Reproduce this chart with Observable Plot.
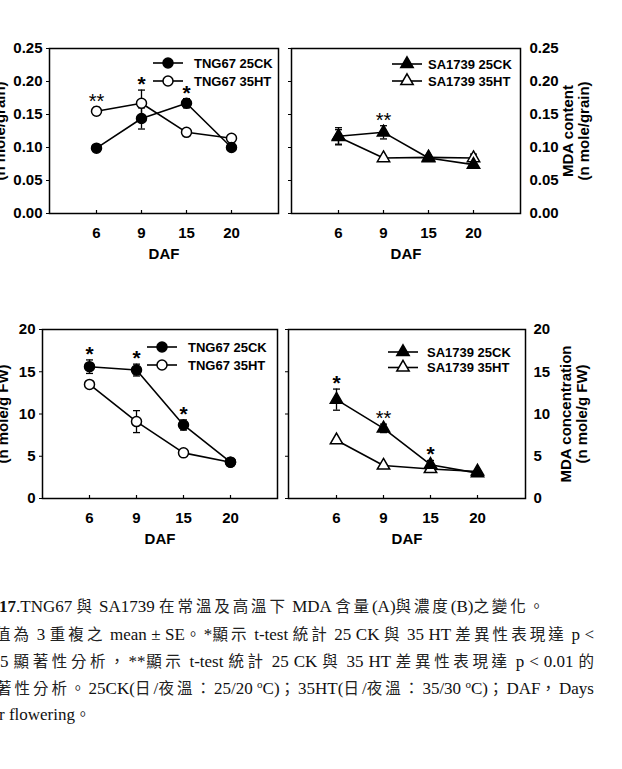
<!DOCTYPE html>
<html><head><meta charset="utf-8">
<script src="https://cdn.jsdelivr.net/npm/d3@7"></script>
<script src="https://cdn.jsdelivr.net/npm/@observablehq/plot@0.6"></script>
<style>
html,body{margin:0;padding:0;background:#fff;}
body{width:622px;height:769px;position:relative;overflow:hidden;}
.panel{position:absolute;}
.cap{position:absolute;white-space:nowrap;font-family:"Liberation Serif","Times New Roman",serif;font-size:17px;line-height:27px;color:#111;}
.cap.j{white-space:normal;text-align:justify;text-align-last:justify;}
.cj{font-family:"Noto Sans CJK TC","Noto Sans CJK SC",sans-serif;font-size:15.5px;letter-spacing:2.9px;color:#222;}
sup{font-size:11px;line-height:0;vertical-align:6px;}
</style>
</head><body>
<script>
// ---------------- data ----------------
const days = [6, 9, 15, 20];
const contentTicks = [0, 0.05, 0.10, 0.15, 0.20, 0.25];
const concTicks = [0, 5, 10, 15, 20];

// (A) MDA content (n mole/grain)
const tngContentCK = [0.099, 0.144, 0.167, 0.100];
const tngContentCKErr = [0.003, 0.016, 0.007, 0.004];
const tngContentHT = [0.155, 0.167, 0.123, 0.114];
const tngContentHTErr = [0.006, 0.020, 0.004, 0.004];
const tngContentSig = ["**", "*", "*", ""];

const saContentCK = [0.117, 0.123, 0.084, 0.074];
const saContentCKErr = [0.013, 0.010, 0.003, 0.003];
const saContentHT = [0.116, 0.084, 0.085, 0.084];
const saContentHTErr = [0.011, 0.003, 0.003, 0.006];
const saContentSig = ["", "**", "", ""];

// (B) MDA concentration (n mole/g FW)
const tngConcCK = [15.6, 15.2, 8.7, 4.3];
const tngConcCKErr = [0.8, 0.7, 0.6, 0.2];
const tngConcHT = [13.5, 9.1, 5.4, 4.3];
const tngConcHTErr = [0.4, 1.3, 0.3, 0.2];
const tngConcSig = ["*", "*", "*", ""];

const saConcCK = [11.7, 8.3, 4.0, 3.0];
const saConcCKErr = [1.25, 0.5, 0.5, 0.2];
const saConcHT = [6.9, 3.9, 3.5, 3.2];
const saConcHTErr = [0.2, 0.2, 0.2, 0.2];
const saConcSig = ["*", "**", "*", ""];

const captionLines = [
  "<b>17</b>.TNG67 與 SA1739 在常溫及高溫下 MDA 含量(A)與濃度(B)之變化。",
  "值為 3 重複之 mean ± SE。*顯示 t-test 統計 25 CK 與 35 HT 差異性表現達 p <",
  "5 顯著性分析，**顯示 t-test 統計 25 CK 與 35 HT 差異性表現達 p < 0.01 的",
  "著性分析。25CK(日/夜溫：25/20 <sup>o</sup>C)；35HT(日/夜溫：35/30 <sup>o</sup>C)；DAF，Days",
  "r flowering。"
];

// ---------------- drawing ----------------
const FONT = "'Liberation Sans', Arial, Helvetica, sans-serif";
const capSym = {draw(ctx, size) { const r = Math.sqrt(size / Math.PI); ctx.moveTo(-r, 0); ctx.lineTo(r, 0); }};
const tickUpSym = {draw(ctx, size) { const r = Math.sqrt(size / Math.PI); ctx.moveTo(0, 0); ctx.lineTo(0, -r); }};

function rowsOf(vals, errs, series) {
  return days.map((d, i) => ({day: d, value: vals[i], err: errs[i], series}));
}

function panel(o) {
  const ck = rowsOf(o.ck, o.ckErr, "CK");
  const ht = rowsOf(o.ht, o.htErr, "HT");
  const all = ck.concat(ht);
  const sig = days.map((d, i) => ({
    day: d, mark: o.sig[i],
    top: Math.max(ck[i].value + ck[i].err, ht[i].value + ht[i].err)
  })).filter(d => d.mark);
  const r = o.shape === "circle" ? 5 : 4.6;
  const yTicksFmt = o.fmt;
  const marks = [
    Plot.frame({stroke: "black", strokeWidth: 1.5}),
    Plot.dot(days, {x: d => d, y: o.ticks[0], symbol: tickUpSym, r: 3.5, stroke: "black", fill: "none", strokeWidth: 1.2}),
    Plot.axisX(days, {tickSize: 0, tickPadding: 14, fontSize: 15, fontWeight: "bold", label: null}),
    Plot.text(["DAF"], {frameAnchor: "bottom", dy: 41, lineAnchor: "middle", fontSize: 15, fontWeight: "bold"})
  ];
  if (o.side === "left") {
    marks.push(Plot.axisY(o.ticks, {anchor: "left", tickSize: 3, tickPadding: 4, tickFormat: yTicksFmt, fontSize: 15, fontWeight: "bold", label: null}));
    marks.push(Plot.text([o.title], {frameAnchor: "left", rotate: -90, dx: o.titleDx, lineAnchor: "middle", textAnchor: "middle", lineHeight: 1.1, fontSize: 15, fontWeight: "bold"}));
  } else {
    marks.push(Plot.axisY(o.ticks, {anchor: "left", tickSize: 3, fill: "none", label: null}));
    marks.push(Plot.axisY(o.ticks, {anchor: "right", tickSize: 0, tickPadding: o.rightPad, tickFormat: yTicksFmt, fontSize: 15, fontWeight: "bold", label: null}));
    marks.push(Plot.text([o.title], {frameAnchor: "right", rotate: -90, dx: o.titleDx, lineAnchor: "middle", textAnchor: "middle", lineHeight: 1.1, fontSize: 15, fontWeight: "bold"}));
  }
  marks.push(
    Plot.line(ck, {x: "day", y: "value", stroke: "black", strokeWidth: 1.6}),
    Plot.line(ht, {x: "day", y: "value", stroke: "black", strokeWidth: 1.6}),
    Plot.ruleX(all, {x: "day", y1: d => d.value - d.err, y2: d => d.value + d.err, stroke: "black", strokeWidth: 1.3}),
    Plot.dot(all, {x: "day", y: d => d.value + d.err, symbol: capSym, r: 3.5, stroke: "black", fill: "none", strokeWidth: 1.3}),
    Plot.dot(all, {x: "day", y: d => d.value - d.err, symbol: capSym, r: 3.5, stroke: "black", fill: "none", strokeWidth: 1.3}),
    Plot.dot(ht, {x: "day", y: "value", symbol: o.shape, r, fill: "white", stroke: "black", strokeWidth: 1.5}),
    Plot.dot(ck, {x: "day", y: "value", symbol: o.shape, r, fill: "black", stroke: "black", strokeWidth: 1.5}),
    Plot.text(sig.filter(d => d.mark === "*"), {x: "day", y: "top", text: "mark", lineAnchor: "bottom", dy: 1, fontSize: 21, fontWeight: "bold"}),
    Plot.text(sig.filter(d => d.mark === "**"), {x: "day", y: "top", text: "mark", lineAnchor: "bottom", dy: 1, fontSize: 20, fontWeight: "normal"})
  );
  const chart = Plot.plot({
    width: o.width, height: o.height,
    marginLeft: o.ml, marginRight: o.mr, marginTop: o.mt, marginBottom: o.mb,
    style: {background: "transparent", fontFamily: FONT, color: "black", overflow: "visible"},
    x: {type: "point", domain: days, padding: 1},
    y: {domain: [o.ticks[0], o.ticks[o.ticks.length - 1]]},
    marks
  });
  chart.classList.add("panel");
  chart.style.left = o.left + "px";
  chart.style.top = o.top + "px";
  document.body.appendChild(chart);
}

const f2 = d3.format(".2f");
panel({ck: tngContentCK, ckErr: tngContentCKErr, ht: tngContentHT, htErr: tngContentHTErr, sig: tngContentSig,
  ticks: contentTicks, fmt: f2, shape: "circle", side: "left", title: "MDA content\n(n mole/grain)", titleDx: -58,
  left: 0, top: 0, width: 286, height: 270, ml: 49, mr: 8, mt: 48, mb: 57});
panel({ck: saContentCK, ckErr: saContentCKErr, ht: saContentHT, htErr: saContentHTErr, sig: saContentSig,
  ticks: contentTicks, fmt: f2, shape: "triangle", side: "right", title: "MDA content\n(n mole/grain)", titleDx: 55, rightPad: 9,
  left: 280, top: 0, width: 342, height: 270, ml: 11, mr: 102, mt: 48, mb: 57});
panel({ck: tngConcCK, ckErr: tngConcCKErr, ht: tngConcHT, htErr: tngConcHTErr, sig: tngConcSig,
  ticks: concTicks, fmt: d3.format("d"), shape: "circle", side: "left", title: "MDA concentration\n(n mole/g FW)", titleDx: -48,
  left: 0, top: 280, width: 283, height: 280, ml: 42, mr: 6, mt: 49, mb: 62});
panel({ck: saConcCK, ckErr: saConcCKErr, ht: saConcHT, htErr: saConcHTErr, sig: saConcSig,
  ticks: concTicks, fmt: d3.format("d"), shape: "triangle", side: "right", title: "MDA concentration\n(n mole/g FW)", titleDx: 48, rightPad: 8,
  left: 278, top: 280, width: 344, height: 280, ml: 10, mr: 97, mt: 49, mb: 62});

// ---------------- legends ----------------
const legends = [
  {x0: 153, x1: 183, tx: 194, ys: [63, 81], shape: "circle", labels: ["TNG67 25CK", "TNG67 35HT"]},
  {x0: 392, x1: 422, tx: 428, ys: [64, 81], shape: "triangle", labels: ["SA1739 25CK", "SA1739 35HT"]},
  {x0: 147, x1: 177, tx: 188, ys: [347, 365], shape: "circle", labels: ["TNG67 25CK", "TNG67 35HT"]},
  {x0: 388, x1: 418, tx: 427, ys: [352, 367.5], shape: "triangle", labels: ["SA1739 25CK", "SA1739 35HT"]}
];
const ov = d3.select("body").append("svg").attr("class", "panel")
  .attr("width", 622).attr("height", 580).style("left", "0px").style("top", "0px")
  .style("font-family", FONT);
legends.forEach(L => {
  L.ys.forEach((y, i) => {
    const g = ov.append("g");
    g.append("line").attr("x1", L.x0).attr("x2", L.x1).attr("y1", y).attr("y2", y)
      .attr("stroke", "black").attr("stroke-width", 1.6);
    const cx = (L.x0 + L.x1) / 2;
    const fill = i === 0 ? "black" : "white";
    if (L.shape === "circle") {
      g.append("circle").attr("cx", cx).attr("cy", y).attr("r", 5).attr("fill", fill).attr("stroke", "black").attr("stroke-width", 1.5);
    } else {
      g.append("path").attr("d", d3.symbol(d3.symbolTriangle, Math.PI * 4.6 * 4.6)()).attr("transform", `translate(${cx},${y})`)
        .attr("fill", fill).attr("stroke", "black").attr("stroke-width", 1.5);
    }
    g.append("text").attr("x", L.tx).attr("y", y).attr("dy", "0.36em").attr("font-size", 13).attr("font-weight", "bold")
      .text(L.labels[i]);
  });
});

// ---------------- caption ----------------
function wrapCJK(s) {
  return s.replace(/([\u3000-\u303f\u4e00-\u9fff\uff00-\uffef]+)/g, '<span class="cj">$1</span>');
}
const capPos = [
  {left: -1, top: 591.5},
  {left: -5, top: 619.5, width: 599},
  {left: 0, top: 646.5, width: 597},
  {left: -4, top: 673.5, width: 598},
  {left: -1, top: 699.5}
];
captionLines.forEach((t, i) => {
  const p = capPos[i];
  const div = document.createElement("div");
  div.className = "cap" + (p.width ? " j" : "");
  div.style.left = p.left + "px";
  div.style.top = p.top + "px";
  if (p.width) div.style.width = p.width + "px";
  div.innerHTML = wrapCJK(t);
  document.body.appendChild(div);
});
</script>
</body></html>
